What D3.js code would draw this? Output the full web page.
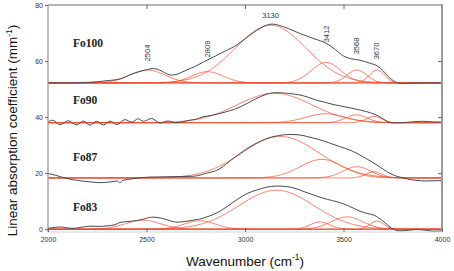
<!DOCTYPE html>
<html>
<head>
<meta charset="utf-8">
<script src="https://cdn.jsdelivr.net/npm/d3@7"></script>
<style>
  body { margin: 0; background: #fff; }
  svg { display: block; }
</style>
</head>
<body>
<script>
// ---- data ----
const samples = ["Fo100", "Fo90", "Fo87", "Fo83"];
const baselines = [52.2, 38.0, 18.3, 0.0];

// measured spectra, [wavenumber, absorption]
const fo100 = [[2000,52.2],[2100,52.2],[2200,52.4],[2250,52.6],[2300,53.0],[2365,53.6],[2420,55.2],[2467,56.3],[2500,56.9],[2533,57.3],[2560,57.0],[2590,55.9],[2625,55.0],[2660,55.4],[2700,56.7],[2750,58.2],[2790,59.7],[2850,61.8],[2900,63.6],[2960,65.8],[3000,67.9],[3040,70.0],[3080,71.8],[3110,72.8],[3137,73.2],[3170,72.8],[3220,71.6],[3280,69.8],[3350,68.0],[3416,66.2],[3460,64.0],[3500,61.8],[3540,60.8],[3584,60.3],[3630,59.3],[3670,58.3],[3700,56.6],[3720,55.0],[3745,53.4],[3765,52.5],[3790,52.0],[3820,52.1],[3900,52.2],[4000,52.2]];
const fo90 = [[2000,38.3],[2024,38.9],[2061,37.3],[2103,38.7],[2146,37.2],[2179,38.6],[2213,37.1],[2247,38.5],[2281,37.2],[2315,38.6],[2349,37.3],[2391,39.1],[2425,38.2],[2458,39.4],[2484,38.5],[2526,39.5],[2569,37.9],[2610,38.6],[2650,38.0],[2700,38.6],[2721,38.9],[2750,39.2],[2787,40.1],[2830,40.6],[2873,41.3],[2920,42.2],[2959,43.1],[3000,44.5],[3041,46.0],[3085,47.5],[3127,48.5],[3162,48.7],[3200,48.6],[3250,48.2],[3279,47.9],[3315,47.2],[3365,46.0],[3410,45.2],[3447,44.5],[3490,43.9],[3533,43.3],[3580,42.6],[3619,41.9],[3655,41.1],[3685,40.1],[3705,39.2],[3726,38.3],[3750,37.9],[3800,38.0],[3850,38.3],[3900,38.5],[3950,38.3],[4000,38.2]];
const fo87 = [[2000,19.9],[2040,19.2],[2096,18.1],[2150,17.4],[2213,16.9],[2264,16.6],[2320,16.9],[2350,17.2],[2365,16.6],[2380,17.4],[2431,18.0],[2518,18.6],[2600,18.7],[2685,18.8],[2740,18.9],[2771,19.3],[2810,20.1],[2857,21.0],[2900,23.0],[2939,25.2],[2980,27.3],[3025,29.4],[3070,31.1],[3112,32.4],[3170,33.4],[3228,33.8],[3280,33.6],[3330,32.8],[3380,31.9],[3431,30.7],[3480,29.5],[3533,28.2],[3570,27.0],[3600,25.8],[3640,24.2],[3670,22.9],[3700,21.5],[3736,19.9],[3770,18.9],[3802,18.3],[3840,17.7],[3873,17.4],[3920,17.2],[3975,17.3],[4000,17.4]];
const fo83 = [[2000,0.3],[2030,0.6],[2061,0.8],[2095,0.5],[2127,0.3],[2170,0.7],[2213,1.1],[2260,1.0],[2300,1.2],[2340,1.6],[2365,2.4],[2400,2.7],[2431,2.9],[2480,3.5],[2533,4.3],[2570,4.0],[2604,3.4],[2630,2.8],[2655,2.5],[2700,2.8],[2736,3.2],[2770,3.6],[2807,4.4],[2860,5.9],[2909,8.1],[2960,10.6],[3010,12.7],[3060,14.0],[3110,15.0],[3162,15.4],[3210,15.2],[3249,14.7],[3300,13.4],[3365,11.8],[3420,10.6],[3467,9.8],[3520,8.5],[3584,6.4],[3620,5.6],[3655,5.0],[3680,4.0],[3706,2.6],[3730,1.1],[3756,-0.1],[3787,-0.6],[3830,-0.4],[3873,-0.1],[3920,-0.4],[3960,-0.7],[4000,-0.6]];
const spectra = [fo100, fo90, fo87, fo83];

// fitted bands: [centre, height above baseline, width]
const bands100 = [[2504,4.6,90],[2809,4.0,80],[3130,20.6,178],[3412,7.3,75],[3568,4.6,50],[3670,4.6,38]];
const bands90 = [[3150,10.5,190],[3410,3.2,100],[3565,2.8,55],[3655,2.2,40]];
const bands87 = [[3180,14.8,195],[3390,6.6,110],[3568,4.0,70],[3655,2.2,40]];
const bands83 = [[2482,3.2,90],[2771,3.0,80],[3160,13.9,190],[3381,2.6,50],[3518,4.4,80],[3670,2.9,35]];
const bands = [bands100, bands90, bands87, bands83];

const peakLabels = ["2504", "2809", "3130", "3412", "3568", "3670"];
const xTicks = [2000, 2500, 3000, 3500, 4000];
const yTicks = [0, 20, 40, 60, 80];

// ---- layout ----
const width = 454, height = 271;
const plot = {left: 48, right: 442, top: 5, bottom: 232};

const svg = d3.select("body").append("svg")
  .attr("width", width)
  .attr("height", height);

const x = d3.scaleLinear().domain([2000, 4000]).range([plot.left, plot.right]);
const y = d3.scaleLinear().domain([-1, 80]).range([plot.bottom, plot.top]);

const line = d3.line()
  .x(d => x(d[0]))
  .y(d => y(d[1]))
  .curve(d3.curveMonotoneX);

// band profiles on the wavenumber grid
const grid = d3.range(2000, 4001, 5);
function bandCurve(b, base) {
  return grid.map(w => [w, base + b[1] * Math.exp(-((w - b[0]) ** 2) / (2 * b[2] * b[2]))]);
}

// red fitted bands
bands.forEach((set, i) => {
  svg.append("g")
    .selectAll("path")
    .data(set)
    .enter()
    .append("path")
      .attr("d", b => line(bandCurve(b, baselines[i])))
      .attr("fill", "none")
      .attr("stroke", "#f04a2c")
      .attr("stroke-opacity", 0.8)
      .attr("stroke-width", 0.9);
});

// black measured spectra
svg.append("g")
  .selectAll("path")
  .data(spectra)
  .enter()
  .append("path")
    .attr("d", d => line(d))
    .attr("fill", "none")
    .attr("stroke", "#4a4a4a")
    .attr("stroke-width", 1);

// frame
const frame = svg.append("g").attr("stroke", "#9a9a9a").attr("fill", "none");
frame.append("line").attr("x1", plot.left).attr("x2", plot.left).attr("y1", plot.top).attr("y2", plot.bottom).attr("stroke-width", 1.3);
frame.append("line").attr("x1", plot.left).attr("x2", plot.right).attr("y1", plot.top).attr("y2", plot.top).attr("stroke-width", 1.5);
frame.append("line").attr("x1", plot.right).attr("x2", plot.right).attr("y1", plot.top - 0.7).attr("y2", plot.bottom).attr("stroke-width", 2);
frame.append("line").attr("x1", plot.left).attr("x2", plot.right).attr("y1", plot.bottom).attr("y2", plot.bottom).attr("stroke-width", 0.8).attr("stroke", "#c8c8c8");

// axes, ticks pointing inward
const xAxis = svg.append("g")
  .attr("transform", `translate(0,${plot.bottom})`)
  .call(d3.axisTop(x).tickValues(xTicks).tickSize(4).tickFormat(""));
const xLabels = svg.append("g")
  .attr("transform", `translate(0,${plot.bottom})`)
  .call(d3.axisBottom(x).tickValues(xTicks).tickSize(0).tickPadding(5).tickFormat(d3.format("d")));
const xTop = svg.append("g")
  .attr("transform", `translate(0,${plot.top})`)
  .call(d3.axisBottom(x).tickValues(xTicks.slice(1, -1)).tickSize(4).tickFormat(""));
const yAxis = svg.append("g")
  .attr("transform", `translate(${plot.left},0)`)
  .call(d3.axisLeft(y).tickValues(yTicks).tickSize(3).tickPadding(2));
const yRight = svg.append("g")
  .attr("transform", `translate(${plot.right},0)`)
  .call(d3.axisLeft(y).tickValues(yTicks.slice(1, -1)).tickSize(4).tickFormat(""));

[xAxis, xLabels, xTop, yAxis, yRight].forEach(a => {
  a.select(".domain").remove();
  a.selectAll(".tick line").attr("stroke", "#666");
  a.selectAll("text")
    .attr("font-family", "Liberation Sans, Arial, sans-serif")
    .attr("font-size", 7)
    .attr("fill", "#333");
});

// sample names
const nameY = [43, 100, 157, 207];
svg.append("g")
  .selectAll("text")
  .data(samples)
  .enter()
  .append("text")
    .attr("x", 73)
    .attr("y", (d, i) => nameY[i] + 4)
    .attr("font-family", "Liberation Serif, Times New Roman, serif")
    .attr("font-weight", "bold")
    .attr("font-size", 11.5)
    .attr("fill", "#222")
    .text(d => d);

// band position labels over Fo100
const labelPos = [[2504, 53], [2809, 49], [3130, 15], [3412, 34], [3568, 46], [3670, 51]];
svg.append("g")
  .selectAll("text")
  .data(peakLabels)
  .enter()
  .append("text")
    .attr("font-family", "Liberation Sans, Arial, sans-serif")
    .attr("font-size", 7.5)
    .attr("fill", "#333")
    .attr("text-anchor", "middle")
    .attr("transform", (d, i) => {
      const px = x(labelPos[i][0]), py = labelPos[i][1];
      return d === "3130"
        ? `translate(${px},${py + 3})`
        : `translate(${px + 2.5},${py}) rotate(-90)`;
    })
    .text(d => d);

// axis titles
const yTitle = svg.append("text")
  .attr("transform", `translate(17,${(plot.top + plot.bottom) / 2 + 12}) rotate(-90)`)
  .attr("text-anchor", "middle")
  .attr("font-family", "Liberation Sans, Arial, sans-serif")
  .attr("font-size", 13.5)
  .attr("fill", "#111");
yTitle.append("tspan").text("Linear absorption coefficient (mm");
yTitle.append("tspan").attr("dy", -5).attr("font-size", 8.5).text("-1");
yTitle.append("tspan").attr("dy", 5).text(")");

const xTitle = svg.append("text")
  .attr("x", 245)
  .attr("y", 266)
  .attr("text-anchor", "middle")
  .attr("font-family", "Liberation Sans, Arial, sans-serif")
  .attr("font-size", 13.5)
  .attr("fill", "#111");
xTitle.append("tspan").text("Wavenumber (cm");
xTitle.append("tspan").attr("dy", -6).attr("font-size", 8.5).text("-1");
xTitle.append("tspan").attr("dy", 6).text(")");
</script>
</body>
</html>
